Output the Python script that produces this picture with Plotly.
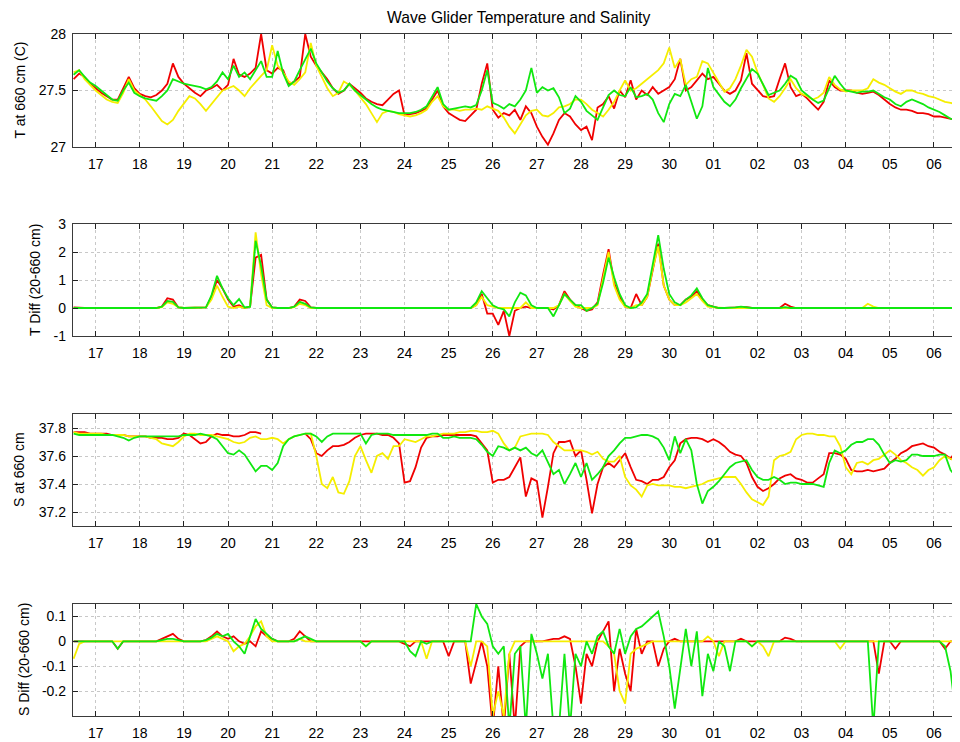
import pandas as pd
import plotly.graph_objects as go
from plotly.subplots import make_subplots

# ---------------- data (3-hourly samples, 16 Jun 12:00 .. 06 Jul 15:00) ----------------
start_time = "2013-06-16 12:00"
n_samples = 162

t_red = [
    27.60, 27.65, 27.62, 27.56,
    27.52, 27.48, 27.45, 27.42, 27.42, 27.52, 27.62, 27.52,
    27.47, 27.45, 27.44, 27.46, 27.50, 27.56, 27.74, 27.62,
    27.56, 27.52, 27.48, 27.45, 27.50, 27.52, 27.55, 27.50,
    27.55, 27.78, 27.64, 27.62, 27.65, 27.70, 28.00, 27.68,
    27.65, 27.70, 27.68, 27.55, 27.58, 27.62, 28.00, 27.80,
    27.72, 27.66, 27.60, 27.52, 27.47, 27.50, 27.56, 27.52,
    27.48, 27.43, 27.40, 27.38, 27.37, 27.42, 27.47, 27.50,
    27.28, 27.29, 27.30, 27.32, 27.34, 27.42, 27.50, 27.36,
    27.30, 27.27, 27.24, 27.23, 27.28, 27.33, 27.56, 27.74,
    27.33, 27.26, 27.30, 27.28, 27.33, 27.24, 27.36, 27.30,
    27.18, 27.09, 27.02, 27.12, 27.24, 27.30, 27.27, 27.20,
    27.15, 27.18, 27.06, 27.35, 27.38, 27.45, 27.34, 27.50,
    27.44, 27.59, 27.42, 27.50, 27.46, 27.53, 27.47, 27.50,
    27.53, 27.60, 27.78, 27.50, 27.53, 27.59, 27.65, 27.60,
    27.62, 27.56, 27.50, 27.47, 27.50, 27.59, 27.83, 27.56,
    27.50, 27.45, 27.44, 27.45, 27.60, 27.74, 27.53, 27.45,
    27.47, 27.43, 27.38, 27.33, 27.40, 27.59, 27.53, 27.50,
    27.50, 27.50, 27.48, 27.47, 27.48, 27.49, 27.46, 27.42,
    27.38, 27.35, 27.33, 27.33, 27.32, 27.30, 27.30, 27.29,
    27.27, 27.27, 27.26, 27.25, 27.24, 27.28,
]
t_yellow = [
    27.66, 27.68, 27.60, 27.55,
    27.50, 27.46, 27.42, 27.40, 27.39, 27.48, 27.60, 27.50,
    27.46, 27.42, 27.36, 27.30, 27.23, 27.20, 27.24, 27.32,
    27.38, 27.45, 27.43, 27.38, 27.32, 27.38, 27.44, 27.50,
    27.52, 27.54, 27.50, 27.45, 27.52, 27.58, 27.63, 27.68,
    27.90, 27.72, 27.66, 27.58, 27.55, 27.60, 27.66, 27.92,
    27.72, 27.62, 27.52, 27.45, 27.48, 27.58, 27.55, 27.50,
    27.44, 27.38, 27.30, 27.22, 27.30, 27.32, 27.31, 27.29,
    27.28, 27.27, 27.28, 27.30, 27.33, 27.40, 27.45, 27.36,
    27.33, 27.33, 27.32, 27.33, 27.33, 27.34, 27.33, 27.36,
    27.34, 27.32, 27.26, 27.18, 27.12, 27.20, 27.28, 27.32,
    27.33, 27.28, 27.27, 27.30, 27.35, 27.36, 27.38, 27.42,
    27.42, 27.38, 27.33, 27.30, 27.27, 27.33, 27.40, 27.50,
    27.59, 27.50, 27.52, 27.56, 27.60, 27.64, 27.68, 27.74,
    27.88, 27.70, 27.78, 27.55, 27.60, 27.62, 27.76, 27.74,
    27.66, 27.58, 27.49, 27.52, 27.60, 27.72, 27.86, 27.80,
    27.66, 27.55, 27.43, 27.40, 27.45, 27.52, 27.60, 27.52,
    27.47, 27.45, 27.42, 27.44, 27.48, 27.62, 27.55, 27.51,
    27.49, 27.50, 27.50, 27.50, 27.52, 27.60, 27.57, 27.55,
    27.52, 27.49, 27.47, 27.50, 27.50, 27.48, 27.47, 27.45,
    27.44, 27.42, 27.40, 27.39, 27.38, 27.37,
]
t_green = [
    27.64, 27.68, 27.62, 27.57,
    27.54, 27.50, 27.46, 27.42, 27.41, 27.50, 27.57, 27.48,
    27.45, 27.43, 27.42, 27.41, 27.45, 27.50, 27.60, 27.58,
    27.56, 27.55, 27.54, 27.53, 27.51, 27.53, 27.58, 27.66,
    27.60, 27.72, 27.62, 27.66, 27.60, 27.68, 27.76, 27.62,
    27.62, 27.85, 27.65, 27.54, 27.58, 27.68, 27.78, 27.87,
    27.74, 27.66, 27.58, 27.52, 27.48, 27.50, 27.56, 27.50,
    27.46, 27.42, 27.38, 27.35, 27.33, 27.32, 27.31, 27.30,
    27.30, 27.30, 27.31, 27.33, 27.36, 27.45, 27.53, 27.38,
    27.33, 27.34, 27.35, 27.36, 27.35, 27.37, 27.50, 27.68,
    27.39, 27.37, 27.34, 27.38, 27.36, 27.42, 27.50, 27.70,
    27.48, 27.53, 27.50, 27.52, 27.44, 27.30, 27.34, 27.45,
    27.40, 27.32, 27.28, 27.24, 27.35, 27.46, 27.50, 27.46,
    27.45, 27.53, 27.44, 27.45, 27.47, 27.42, 27.30, 27.22,
    27.38, 27.47, 27.45, 27.55, 27.40, 27.25, 27.36, 27.70,
    27.53, 27.47, 27.40, 27.36, 27.42, 27.52, 27.60, 27.69,
    27.65, 27.56, 27.46, 27.48, 27.50, 27.56, 27.63, 27.60,
    27.50, 27.46, 27.42, 27.39, 27.41, 27.52, 27.63, 27.56,
    27.50, 27.49, 27.48, 27.49, 27.49, 27.50, 27.47, 27.44,
    27.42, 27.38, 27.36, 27.40, 27.42, 27.40, 27.38, 27.35,
    27.33, 27.31, 27.28, 27.25, 27.24, 27.28,
]

td_red = [
    0.02, 0, 0, 0,
    0, 0, 0, 0, 0, 0, 0, 0,
    0, 0, 0, 0, 0.05, 0.35, 0.30, 0.02,
    0, 0, 0, 0, 0.02, 0.40, 1.00, 0.70,
    0.30, 0.05, 0.10, 0.00, 0.05, 1.80, 1.90, 0.30,
    0.02, 0, 0, 0, 0.05, 0.30, 0.25, 0.02,
    0, 0, 0, 0, 0, 0, 0, 0,
    0, 0, 0, 0, 0, 0, 0, 0,
    0, 0, 0, 0, 0, 0, 0, 0,
    0, 0, 0, 0, 0, 0.10, 0.50, -0.20,
    -0.20, -0.60, -0.10, -1.00, -0.10, 0.00, 0.05, 0.00,
    0.00, 0.00, 0.00, -0.05, 0.10, 0.60, 0.30, 0.10,
    0.00, -0.10, -0.05, 0.20, 1.20, 2.10, 0.90, 0.40,
    0.05, 0.00, 0.50, 0.10, 0.40, 1.30, 2.30, 0.80,
    0.30, 0.10, 0.10, 0.30, 0.40, 0.60, 0.30, 0.10,
    0.05, 0, 0, 0, 0, 0.02, 0.03, 0,
    0, 0, 0, 0, 0, 0.15, 0.05, 0,
    0, 0, 0, 0, 0, 0, 0, 0,
    0, 0, 0, 0, 0, 0, 0, 0,
    0, 0, 0, 0, 0, 0, 0, 0,
    0, 0, 0, 0, 0, 0,
]
td_yellow = [
    0, 0, 0, 0,
    0, 0, 0, 0, 0, 0, 0, 0,
    0, 0, 0, 0, 0.03, 0.20, 0.15, 0.02,
    0, 0, 0, 0, 0.02, 0.30, 0.80, 0.40,
    0.05, 0.00, 0.05, 0.00, 0.05, 2.70, 1.20, 0.10,
    0, 0, 0, 0, 0.03, 0.15, 0.10, 0,
    0, 0, 0, 0, 0, 0, 0, 0,
    0, 0, 0, 0, 0, 0, 0, 0,
    0, 0, 0, 0, 0, 0, 0, 0,
    0, 0, 0, 0, 0, 0.10, 0.40, 0.10,
    0.05, 0.00, 0.00, 0.00, 0.00, 0.00, 0.20, 0.00,
    0.00, 0.00, 0.00, 0.00, 0.10, 0.50, 0.25, 0.05,
    0.00, 0.00, 0.00, 0.10, 1.00, 2.00, 0.80, 0.30,
    0.05, 0.00, 0.10, 0.10, 0.40, 1.40, 2.20, 0.80,
    0.30, 0.10, 0.10, 0.20, 0.35, 0.50, 0.25, 0.05,
    0.02, 0, 0, 0, 0, 0, 0, 0,
    0, 0, 0, 0, 0, 0, 0, 0,
    0, 0, 0, 0, 0, 0, 0, 0,
    0, 0, 0, 0, 0.15, 0.05, 0, 0,
    0, 0, 0, 0, 0, 0, 0, 0,
    0, 0, 0, 0, 0, 0.05,
]
td_green = [
    0, 0, 0, 0,
    0, 0, 0, 0, 0, 0, 0, 0,
    0, 0, 0, 0, 0.05, 0.25, 0.22, 0.02,
    0, 0, 0, 0, 0.02, 0.45, 1.15, 0.70,
    0.35, 0.10, 0.32, 0.02, 0.05, 2.40, 1.50, 0.30,
    0.02, 0, 0, 0, 0.05, 0.22, 0.15, 0.02,
    0, 0, 0, 0, 0, 0, 0, 0,
    0, 0, 0, 0, 0, 0, 0, 0,
    0, 0, 0, 0, 0, 0, 0, 0,
    0, 0, 0, 0, 0, 0.20, 0.60, 0.35,
    0.10, 0.00, -0.05, -0.30, 0.20, 0.55, 0.45, 0.10,
    0.00, 0.00, 0.00, -0.30, 0.10, 0.50, 0.30, 0.10,
    0.10, -0.10, 0.00, 0.15, 0.90, 1.80, 1.10, 0.50,
    0.10, 0.00, 0.02, 0.20, 0.50, 1.50, 2.60, 1.40,
    0.50, 0.20, 0.10, 0.30, 0.45, 0.70, 0.35, 0.10,
    0.05, 0, 0, 0, 0.02, 0.05, 0.02, 0,
    0, 0, 0, 0, 0, 0.03, 0, 0,
    0, 0, 0, 0, 0, 0, 0, 0,
    0, 0, 0, 0, 0, 0, 0, 0,
    0, 0, 0, 0, 0, 0, 0, 0,
    0, 0, 0, 0, 0, 0.03,
]

s_red = [
    37.77, 37.77, 37.77, 37.76,
    37.76, 37.76, 37.76, 37.75, 37.75, 37.75, 37.74, 37.74,
    37.74, 37.74, 37.73, 37.73, 37.73, 37.72, 37.72, 37.73,
    37.76, 37.75, 37.72, 37.69, 37.70, 37.74, 37.76, 37.75,
    37.75, 37.74, 37.74, 37.75, 37.77, 37.77, 37.76, None,
    None, None, None, None, None, None, 37.76, 37.72,
    37.62, 37.60, 37.64, 37.67, 37.67, 37.68, 37.70, 37.73,
    37.75, 37.76, 37.76, 37.76, 37.75, 37.75, 37.73, 37.69,
    37.41, 37.42, 37.52, 37.66, 37.73, 37.74, 37.74, 37.75,
    37.75, 37.75, 37.75, 37.75, 37.75, 37.74, 37.69, 37.64,
    37.41, 37.43, 37.43, 37.45, 37.52, 37.59, 37.31, 37.44,
    37.42, 37.16, 37.38, 37.62, 37.70, 37.70, 37.71, 37.60,
    37.64, 37.43, 37.19, 37.40, 37.52, 37.55, 37.52, 37.57,
    37.62, 37.52, 37.43, 37.42, 37.40, 37.43, 37.43, 37.45,
    37.52, 37.57, 37.69, 37.72, 37.73, 37.73, 37.72, 37.70,
    37.72, 37.70, 37.67, 37.63, 37.61, 37.60, 37.55, 37.45,
    37.38, 37.35, 37.37, 37.40, 37.44, 37.46, 37.47, 37.44,
    37.43, 37.41, 37.41, 37.44, 37.47, 37.62, 37.62, 37.61,
    37.58, 37.50, 37.49, 37.49, 37.50, 37.49, 37.50, 37.51,
    37.55, 37.58, 37.62, 37.64, 37.67, 37.68, 37.69, 37.67,
    37.66, 37.63, 37.61, 37.58, 37.64, 37.63,
]
s_yellow = [
    37.77, 37.76, 37.76, 37.76,
    37.76, 37.76, 37.75, 37.75, 37.75, 37.75, 37.74, 37.74,
    37.74, 37.74, 37.73, 37.72, 37.69, 37.68, 37.67, 37.70,
    37.74, 37.76, 37.76, 37.75, 37.75, 37.75, 37.74, 37.73,
    37.72, 37.70, 37.69, 37.70, 37.73, 37.74, 37.72, 37.72,
    37.73, 37.72, 37.69, 37.72, 37.74, 37.75, 37.76, 37.76,
    37.60, 37.40, 37.37, 37.45, 37.34, 37.33, 37.42, 37.60,
    37.67, 37.57, 37.48, 37.60, 37.62, 37.58, 37.67, 37.67,
    37.72, 37.71, 37.70, 37.72, 37.74, 37.74, 37.75, 37.76,
    37.76, 37.76, 37.77, 37.77, 37.78, 37.78, 37.77, 37.77,
    37.78, 37.76, 37.69, 37.64, 37.66, 37.74, 37.75, 37.76,
    37.76, 37.76, 37.75, 37.70, 37.67, 37.64, 37.64, 37.64,
    37.64, 37.63, 37.61, 37.63, 37.58, 37.56, 37.56, 37.60,
    37.45, 37.39, 37.36, 37.31, 37.39, 37.40, 37.39, 37.39,
    37.39, 37.38, 37.38, 37.37, 37.38, 37.39, 37.40, 37.42,
    37.43, 37.44, 37.45, 37.45, 37.45, 37.40, 37.34, 37.29,
    37.27, 37.25, 37.31, 37.57, 37.60, 37.61, 37.63, 37.72,
    37.75, 37.76, 37.76, 37.75, 37.75, 37.74, 37.74, 37.67,
    37.52, 37.47, 37.55, 37.56, 37.54, 37.57, 37.58, 37.61,
    37.64, 37.61, 37.57, 37.55, 37.52, 37.50, 37.46, 37.50,
    37.52, 37.57, 37.60, 37.58, 37.56, 37.55,
]
s_green = [
    37.76, 37.75, 37.75, 37.75,
    37.75, 37.75, 37.75, 37.75, 37.74, 37.73, 37.71, 37.73,
    37.74, 37.74, 37.74, 37.74, 37.74, 37.74, 37.74, 37.74,
    37.75, 37.75, 37.75, 37.76, 37.75, 37.74, 37.72, 37.67,
    37.62, 37.61, 37.64, 37.61, 37.55, 37.49, 37.53, 37.53,
    37.50, 37.55, 37.67, 37.72, 37.74, 37.75, 37.76, 37.76,
    37.74, 37.70, 37.74, 37.76, 37.76, 37.76, 37.76, 37.76,
    37.76, 37.69, 37.75, 37.76, 37.76, 37.76, 37.75, 37.75,
    37.75, 37.75, 37.75, 37.75, 37.75, 37.76, 37.76, 37.73,
    37.73, 37.74, 37.73, 37.73, 37.73, 37.72, 37.68, 37.63,
    37.60, 37.67, 37.66, 37.64, 37.66, 37.64, 37.66, 37.62,
    37.60, 37.64, 37.55, 37.47, 37.50, 37.40, 37.47, 37.55,
    37.45, 37.55, 37.43, 37.47, 37.52, 37.60, 37.64, 37.69,
    37.73, 37.73, 37.74, 37.75, 37.75, 37.74, 37.72, 37.66,
    37.57, 37.74, 37.62, 37.72, 37.64, 37.40, 37.26, 37.35,
    37.38, 37.42, 37.47, 37.52, 37.55, 37.56, 37.57, 37.50,
    37.45, 37.43, 37.43, 37.45, 37.43, 37.40, 37.41, 37.41,
    37.40, 37.40, 37.40, 37.39, 37.38, 37.55, 37.64, 37.62,
    37.64, 37.68, 37.70, 37.70, 37.72, 37.72, 37.68, 37.61,
    37.55, 37.57, 37.56, 37.57, 37.61, 37.61, 37.60, 37.60,
    37.60, 37.61, 37.61, 37.50, 37.45, 37.40,
]

sd_red = [
    0, 0, 0, 0,
    0, 0, 0, 0, -0.03, 0, 0, 0,
    0, 0, 0, 0, 0.01, 0.02, 0.03, 0.01,
    0, 0, 0, 0, 0.005, 0.02, 0.04, 0.02,
    0.01, 0.02, 0.00, -0.01, 0.00, -0.02, 0.04, 0.02,
    0.01, 0, 0, 0, 0.01, 0.04, 0.02, 0,
    0, 0, 0, 0, 0, 0, 0, 0,
    0, 0, 0, 0, 0, 0, 0, 0,
    -0.01, -0.02, 0, 0, 0, 0, 0, 0,
    -0.06, 0, 0, 0, -0.17, -0.08, 0.00, -0.10,
    -0.35, -0.10, -0.35, -0.05, -0.35, -0.02, 0.00, 0.00,
    0.00, 0.00, 0.005, 0.01, 0.01, 0.02, 0.01, -0.10,
    -0.25, -0.05, -0.10, 0.00, 0.04, 0.08, -0.20, -0.03,
    -0.13, -0.20, 0.05, -0.05, 0.00, 0.00, -0.10, -0.03,
    0, 0.01, 0, 0, 0, 0, 0, 0,
    0, 0, 0, 0, 0, 0.01, 0, 0,
    0, 0, 0, 0, 0, 0.015, 0.01, 0,
    0, 0, 0, 0, 0, 0, 0, 0,
    0, 0, 0, 0, 0, 0, -0.13, 0,
    0, -0.03, 0, 0, 0, 0, 0, 0,
    0, 0, -0.03, 0, 0, 0,
]
sd_yellow = [
    -0.07, -0.01, 0, 0,
    0, 0, 0, 0, 0, 0, 0, 0,
    0, 0, 0, 0, 0, 0, 0, 0,
    0, 0, 0, 0, 0, 0.01, 0.02, 0.01,
    0.00, -0.04, -0.02, -0.01, 0.02, 0.06, 0.08, 0.02,
    0, 0, 0, 0, 0, 0.01, 0, 0,
    0, 0, 0, 0, 0, 0, 0, 0,
    0, -0.02, 0, 0, 0, 0, 0, 0,
    0, 0, 0, 0, -0.07, 0, 0, 0,
    0, 0, 0, 0, -0.10, 0, 0, -0.02,
    -0.30, -0.20, -0.30, -0.05, 0, 0, 0, 0,
    0, 0, 0, 0, 0, 0, 0, 0,
    0, 0, 0, 0, 0, -0.02, -0.05, -0.20,
    -0.25, -0.05, -0.03, -0.02, -0.01, 0, 0, 0,
    0, 0, 0, 0, 0, 0, 0, 0.02,
    0, -0.06, 0, 0, 0, 0, 0, -0.02,
    0, -0.02, -0.06, 0, 0, 0, 0, 0,
    0, 0, 0, 0, 0, 0, 0, -0.03,
    0, 0, 0, 0, 0, 0, 0, 0,
    0, 0, 0, 0, 0, 0, 0, 0,
    0, 0, 0, 0, 0, 0,
]
sd_green = [
    0, 0, 0, 0,
    0, 0, 0, 0, -0.03, 0, 0, 0,
    0, 0, 0, 0, 0.005, 0.01, 0.01, 0.005,
    0, 0, 0, 0, 0.005, 0.015, 0.03, 0.02,
    0.03, 0.00, -0.02, -0.05, 0.02, 0.09, 0.05, 0.03,
    0.01, 0, 0, 0, 0, 0.01, 0.02, 0.01,
    0, 0, 0, 0, 0, 0, 0, 0,
    0, -0.02, 0, 0, 0, 0, 0, 0,
    0, -0.04, -0.06, 0, -0.01, 0, 0, 0,
    0, 0, 0, 0, 0, 0.15, 0.10, 0.07,
    -0.02, -0.05, -0.02, -0.35, -0.05, -0.02, -0.35, 0.03,
    -0.05, -0.15, -0.05, -0.35, -0.35, -0.05, -0.35, -0.05,
    -0.10, 0.00, -0.05, 0.02, 0.04, -0.02, -0.05, 0.05,
    -0.05, 0.02, 0.05, 0.06, 0.08, 0.10, 0.12, 0.02,
    -0.10, -0.27, -0.10, 0.05, -0.10, 0.04, -0.22, -0.05,
    -0.12, 0.00, -0.02, -0.12, 0.00, 0.00, 0.00, -0.02,
    0, 0, 0, 0, 0, 0, 0, 0,
    0, 0, 0, 0, 0, 0, 0, 0,
    0, 0, 0, 0, 0, -0.35, 0, 0,
    0, 0, 0, 0, 0, 0, 0, 0,
    0, 0, -0.02, -0.12, -0.30, -0.05,
]

panel_titles = ["T at 660 cm (C)", "T Diff (20-660 cm)", "S at 660 cm", "S Diff (20-660 cm)"]
y_ranges = [[27, 28], [-1, 3], [37.1, 37.9], [-0.3, 0.15]]
y_tickvals = [[27, 27.5, 28], [-1, 0, 1, 2, 3], [37.2, 37.4, 37.6, 37.8], [-0.2, -0.1, 0, 0.1]]
y_ticktext = [["27", "27.5", "28"], ["-1", "0", "1", "2", "3"],
              ["37.2", "37.4", "37.6", "37.8"], ["-0.2", "-0.1", "0", "0.1"]]
series = [
    (t_red, t_yellow, t_green),
    (td_red, td_yellow, td_green),
    (s_red, s_yellow, s_green),
    (sd_red, sd_yellow, sd_green),
]
colors = ["#f00000", "#f5ee00", "#10e810"]

# ---------------- figure ----------------
times = pd.date_range(start_time, periods=n_samples, freq="3h")
W, H = 960, 742
OFF = 8  # the page body has an 8px margin; figure coordinates = screen - OFF
panel_px = [(34, 147), (224, 336), (414, 526), (604, 716)]   # screen top, bottom
title_x_px = [20, 35, 19, 24]
left_px = 73

fig = make_subplots(rows=4, cols=1)

for r, trio in enumerate(series, start=1):
    for vals, col in zip(trio, colors):
        fig.add_trace(go.Scatter(x=times, y=vals, mode="lines",
                                 line=dict(color=col, width=1.8),
                                 showlegend=False, hoverinfo="skip"),
                      row=r, col=1)

axis_common = dict(
    showline=True, linecolor="#3a3a3a", linewidth=1.3, mirror="ticks",
    ticks="inside", ticklen=5, tickwidth=1.3, tickcolor="#222",
    showgrid=True, gridcolor="#c8c8c8", griddash="dot", gridwidth=1,
    zeroline=False, automargin=False, tickfont=dict(size=14, color="black"),
)

for i in range(4):
    top, bot = panel_px[i]
    top -= OFF
    bot -= OFF
    xa = "xaxis" if i == 0 else f"xaxis{i+1}"
    ya = "yaxis" if i == 0 else f"yaxis{i+1}"
    fig.layout[xa].update(
        domain=[(left_px - OFF) / W, 1.0], type="date",
        range=["2013-06-16 11:40", "2013-07-06 18:30"],
        tick0="2013-06-17", dtick=86400000, tickformat="%d",
        ticklabelstandoff=4, **axis_common)
    fig.layout[ya].update(
        domain=[1 - bot / H, 1 - top / H], range=y_ranges[i],
        tickmode="array", tickvals=y_tickvals[i], ticktext=y_ticktext[i],
        ticklabelstandoff=3, **axis_common)
    fig.add_annotation(text=panel_titles[i], textangle=-90, showarrow=False,
                       xref="paper", yref="paper",
                       x=(title_x_px[i] - OFF) / W, y=1 - (top + bot) / 2 / H,
                       xanchor="center", yanchor="middle",
                       font=dict(size=14, color="black"))

fig.add_annotation(text="Wave Glider Temperature and Salinity", showarrow=False,
                   xref="paper", yref="paper",
                   x=(518 - OFF) / W, y=1 - (17 - OFF) / H,
                   xanchor="center", yanchor="middle",
                   font=dict(size=15.7, color="black"))

fig.update_layout(
    width=W, height=H, margin=dict(l=0, r=0, t=0, b=0),
    paper_bgcolor="white", plot_bgcolor="white", showlegend=False,
    font=dict(family="Liberation Sans, Arial, Helvetica, sans-serif", size=14, color="black"),
)

fig.write_html("out.html")
